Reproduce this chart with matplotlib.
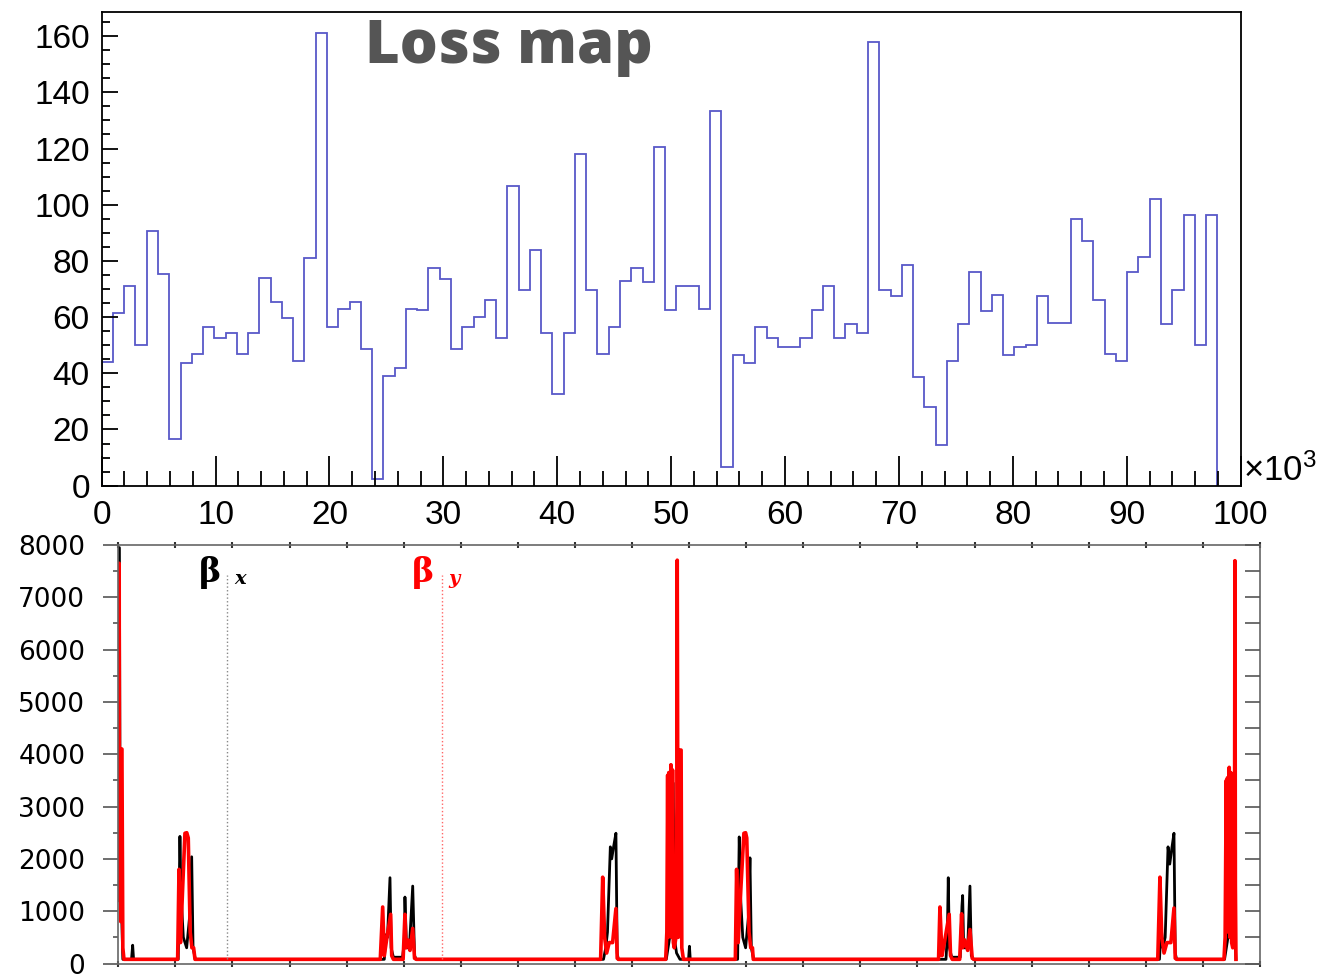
import numpy as np
import matplotlib
matplotlib.use("Agg")
import matplotlib.pyplot as plt
from matplotlib.ticker import MultipleLocator

# ---------------- data: loss map histogram (x in units of 10^3) ----------------
loss_range = (0.0, 97.95)
loss_counts = [44, 61.5, 71, 50, 90.5, 75.5, 16.5, 43.5, 47, 56.5,
               52.5, 54.5, 47, 54.5, 74, 65.5, 59.5, 44.5, 81, 161,
               56.5, 63, 65.5, 48.5, 2.5, 39, 42, 63, 62.5, 77.5,
               73.5, 48.5, 56.5, 60, 66, 52.5, 106.5, 69.5, 84, 54.5,
               32.5, 54.5, 118, 69.5, 47, 56.5, 73, 77.5, 72.5, 120.5,
               62.5, 71, 71, 63, 133.5, 6.5, 46.5, 43.5, 56.5, 52.5,
               49.5, 49.5, 52.5, 62.5, 71, 52.5, 57.5, 54.5, 158, 69.5,
               67.5, 78.5, 38.5, 28, 14.5, 44.5, 57.5, 76, 62, 68,
               46.5, 49.5, 50, 67.5, 58, 58, 95, 87, 66, 47,
               44.5, 76, 81.5, 102, 57.5, 69.5, 96.5, 50, 96.5]

# ---------------- data: beta functions ----------------
betax_s = [0.00, 0.10, 0.18, 0.30, 0.40, 1.16, 1.26, 1.34,
           5.25, 5.40, 5.50, 5.70, 5.99, 6.25, 6.43, 6.55, 6.75,
           23.30, 23.45, 23.58, 23.80, 23.90, 24.10, 24.90, 25.05, 25.11, 25.25,
           25.50, 25.79, 25.95, 26.10,
           42.50, 42.70, 42.85, 43.10, 43.22, 43.40, 43.59, 43.70, 43.80,
           48.00, 48.30, 48.55, 48.61, 48.70, 48.90, 49.20, 49.95, 50.03, 50.10,
           54.25, 54.39, 54.50, 54.70, 54.95, 55.20, 55.33, 55.45, 55.65,
           72.50, 72.62, 72.70, 72.80, 73.00, 73.75, 73.90, 73.96, 74.05,
           74.40, 74.60, 74.72, 74.90,
           91.20, 91.35, 91.50, 91.70, 91.95, 92.10, 92.30, 92.47, 92.58, 92.70,
           96.90, 97.20, 97.45, 97.52, 97.62, 97.85, 97.90]
betax_v = [7950, 7950, 1000, 900, 80, 80, 350, 80,
           80, 2430, 1300, 500, 300, 900, 2040, 300, 80,
           80, 550, 500, 1640, 300, 120, 120, 400, 1270, 300,
           300, 1480, 150, 80,
           80, 300, 600, 2230, 2000, 2250, 2490, 200, 80,
           80, 500, 3450, 3450, 500, 200, 80, 80, 330, 80,
           80, 2420, 1300, 500, 300, 900, 2020, 300, 80,
           80, 550, 1640, 300, 120, 120, 1100, 1300, 300,
           300, 1480, 150, 80,
           80, 700, 300, 500, 2230, 1900, 2230, 2490, 200, 80,
           80, 500, 3630, 3630, 800, 300, 80]

betay_s = [0.00, 0.08, 0.11, 0.15, 0.22, 0.26, 0.32, 0.40, 0.50, 1.20,
           5.20, 5.32, 5.45, 5.65, 5.84, 6.00, 6.13, 6.30, 6.45, 6.60, 6.72,
           22.95, 23.16, 23.30, 23.50, 23.86, 23.95, 24.10,
           24.95, 25.11, 25.20, 25.37, 25.55, 25.79, 25.95, 26.10,
           42.25, 42.43, 42.60, 42.78, 43.00, 43.30, 43.59, 43.70, 43.80,
           47.95, 48.05, 48.12, 48.17, 48.22, 48.30, 48.35, 48.41, 48.47, 48.55,
           48.62, 48.70, 48.85, 48.93, 48.96, 49.00, 49.05, 49.10, 49.17, 49.22,
           49.30, 49.36, 49.50,
           54.05, 54.16, 54.30, 54.55, 54.80, 54.95, 55.05, 55.25, 55.40, 55.55, 55.62,
           71.85, 71.97, 72.15, 72.40, 72.78, 72.90, 73.05,
           73.70, 73.87, 73.95, 74.15, 74.40, 74.60, 74.80, 74.95,
           91.05, 91.24, 91.40, 91.60, 91.85, 92.20, 92.47, 92.58, 92.70,
           96.85, 96.95, 97.05, 97.10, 97.15, 97.22, 97.27, 97.31, 97.37, 97.45,
           97.52, 97.62, 97.72, 97.78, 97.81, 97.85, 97.90]
betay_v = [7650, 7650, 1200, 4100, 800, 4100, 4100, 300, 80, 80,
           80, 1800, 400, 1500, 2490, 2500, 2400, 600, 300, 300, 80,
           80, 1080, 150, 450, 940, 150, 80,
           80, 940, 300, 450, 250, 670, 100, 80,
           80, 1650, 500, 200, 400, 400, 1050, 100, 80,
           80, 600, 3600, 500, 3650, 3550, 600, 3800, 500, 3700,
           400, 300, 500, 3000, 7710, 3900, 500, 4080, 600, 4080,
           4080, 300, 80,
           80, 1800, 400, 1500, 2490, 2500, 2400, 600, 300, 300, 80,
           80, 1080, 150, 450, 940, 150, 80,
           80, 950, 300, 450, 250, 650, 100, 80,
           80, 1650, 500, 200, 400, 400, 1060, 100, 80,
           80, 500, 3500, 600, 3550, 3450, 700, 3750, 500, 3650,
           400, 300, 500, 3000, 7700, 1500, 80]

marker_s = [9.5, 28.33]          # legend marker lines
marker_top = 7430
marker_bottom = 80

# ---------------- figure ----------------
plt.rcParams['mathtext.fontset'] = 'custom'
plt.rcParams['mathtext.rm'] = 'Liberation Sans'
plt.rcParams['mathtext.it'] = 'Liberation Sans:italic'

fig = plt.figure(figsize=(13.2, 9.76), dpi=100)

# ---- top: loss map ----
ax1 = fig.add_axes([0.0770, 0.5024, 0.9399 - 0.0770, 0.988 - 0.5024])
edges = np.linspace(loss_range[0], loss_range[1], len(loss_counts) + 1)
ax1.stairs(loss_counts, edges, baseline=0, color='#5858c8', lw=1.3)
ax1.set_xlim(0, 100)
ax1.set_ylim(0, 168.7)
ax1.xaxis.set_major_locator(MultipleLocator(10))
ax1.xaxis.set_minor_locator(MultipleLocator(2))
ax1.yaxis.set_major_locator(MultipleLocator(20))
ax1.yaxis.set_minor_locator(MultipleLocator(5))
ax1.tick_params(axis='x', which='major', direction='in', length=21.5, width=1.3,
                top=False, pad=10, labelsize=24, color='black')
ax1.tick_params(axis='x', which='minor', direction='in', length=11, width=1.3, top=False)
ax1.tick_params(axis='y', which='major', direction='in', length=11.3, width=1.3,
                right=False, pad=8.5, labelsize=24)
ax1.tick_params(axis='y', which='minor', direction='in', length=5.5, width=1.3, right=False)
for lab in ax1.get_xticklabels() + ax1.get_yticklabels():
    lab.set_fontfamily('Liberation Sans')
for sp in ax1.spines.values():
    sp.set_linewidth(1.3)
ax1.text(1.002, -0.004, r'$\times10^{3}$', transform=ax1.transAxes, ha='left', va='bottom',
         fontsize=25)
fig.text(365 / 1320, 1 - 63 / 976, 'Loss map', fontsize=43, fontweight='heavy',
         family='Open Sans', color='#555555', ha='left', va='baseline')

# ---- bottom: beta functions ----
ax2 = fig.add_axes([0.0896, 0.0128, 0.9545 - 0.0896, 0.4416 - 0.0128])
ax2.plot(betax_s, betax_v, color='black', lw=2.0)
ax2.plot(betay_s, betay_v, color='#ff0000', lw=2.6)
ax2.plot([marker_s[0]] * 2, [marker_bottom, marker_top], color='#888888', lw=1, ls=':')
ax2.plot([marker_s[1]] * 2, [marker_bottom, marker_top], color='#ff6666', lw=1, ls=':')
ax2.text(7.1, 7480, 'β', fontsize=24, fontweight='bold', family='DejaVu Serif',
         color='black', ha='left', va='center')
ax2.text(10.2, 7350, 'x', fontsize=14, style='italic', fontweight='bold',
         family='DejaVu Serif', color='black', ha='left', va='center')
ax2.text(25.7, 7480, 'β', fontsize=24, fontweight='bold', family='DejaVu Serif',
         color='#ff0000', ha='left', va='center')
ax2.text(28.9, 7350, 'y', fontsize=14, style='italic', fontweight='bold',
         family='DejaVu Serif', color='#ff0000', ha='left', va='center')
ax2.set_xlim(0, 100)
ax2.set_ylim(0, 8000)
ax2.xaxis.set_major_locator(MultipleLocator(5))
ax2.yaxis.set_major_locator(MultipleLocator(1000))
ax2.yaxis.set_minor_locator(MultipleLocator(500))
ax2.tick_params(axis='x', which='major', direction='inout', length=5, width=1.5,
                top=True, bottom=True, labelbottom=False, color='#333333')
ax2.tick_params(axis='y', which='major', direction='out', length=10.8, width=1.2,
                right=False, pad=13, labelsize=19, color='#555555')
ax2.tick_params(axis='y', which='minor', direction='out', length=3.6, width=1.2,
                right=False, color='#555555')
for lab in ax2.get_yticklabels():
    lab.set_fontfamily('DejaVu Sans')
for sp in ax2.spines.values():
    sp.set_linewidth(1.2)
    sp.set_color('#666666')

ax2r = ax2.twinx()
ax2r.set_ylim(0, 8000)
ax2r.yaxis.set_major_locator(MultipleLocator(500))
ax2r.tick_params(axis='y', direction='in', length=10.8, width=1.2, labelright=False,
                 color='#555555')
for sp in ax2r.spines.values():
    sp.set_visible(False)

fig.savefig('out.png', dpi=100)
